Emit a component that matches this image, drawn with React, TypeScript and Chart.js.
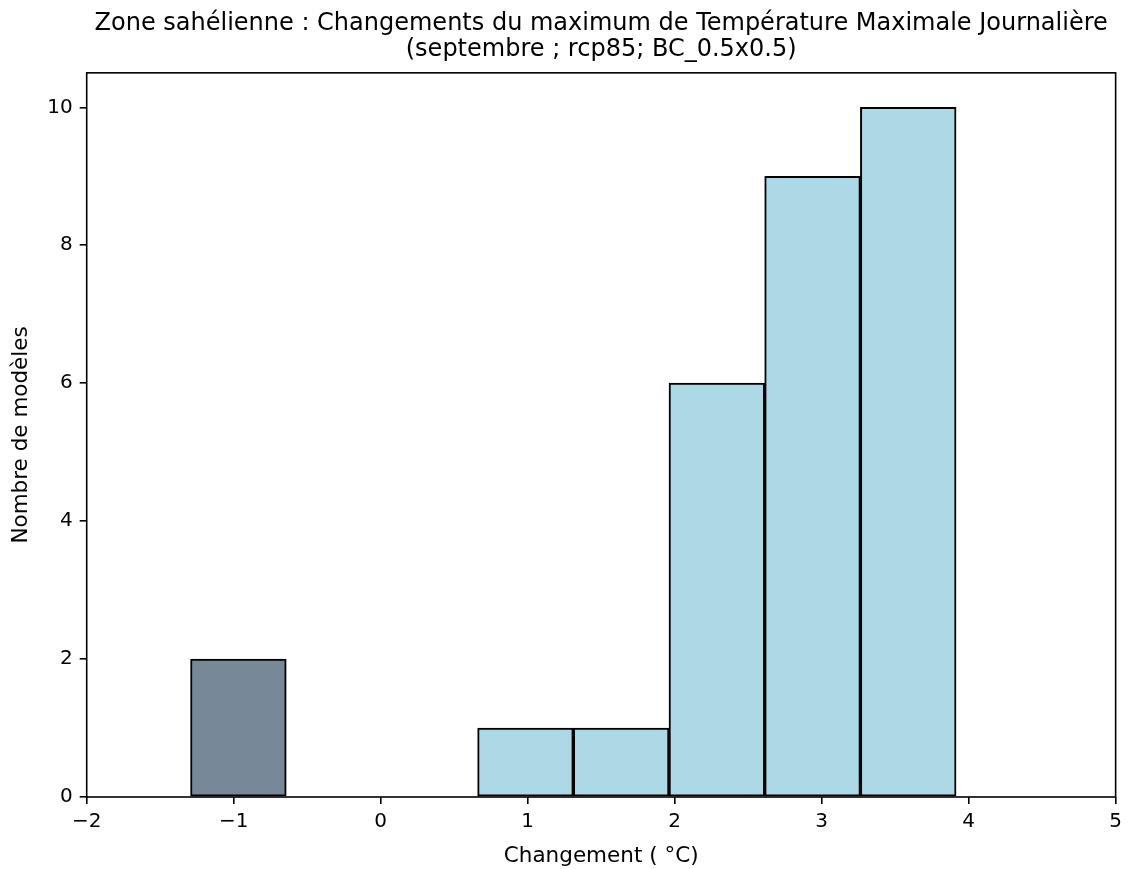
import React, { useEffect, useRef } from "react";
import { Chart, registerables } from "chart.js";

Chart.register(...registerables);

const titleLines = [
  "Zone sahélienne : Changements du maximum de Température Maximale Journalière",
  "(septembre ; rcp85; BC_0.5x0.5)",
];
const xLabel = "Changement ( °C)";
const yLabel = "Nombre de modèles";

const binCenters = [-0.968, -0.317, 0.334, 0.985, 1.636, 2.287, 2.938, 3.589];
const binCounts = [2, 0, 0, 1, 1, 6, 9, 10];
const binColors = [
  "#778899",
  "#778899",
  "#ADD8E6",
  "#ADD8E6",
  "#ADD8E6",
  "#ADD8E6",
  "#ADD8E6",
  "#ADD8E6",
];

const xMin = -2;
const xMax = 5;
const yMin = 0;
const yMax = 10.5;

const FONT = "'DejaVu Sans', sans-serif";

const framePlugin = {
  id: "frame",
  afterDatasetsDraw(chart: any) {
    const { ctx, chartArea } = chart;
    ctx.save();
    ctx.strokeStyle = "#000";
    ctx.lineWidth = 1.6;
    ctx.strokeRect(
      chartArea.left,
      chartArea.top,
      chartArea.right - chartArea.left,
      chartArea.bottom - chartArea.top
    );
    ctx.restore();
  },
};

export default function App() {
  const ref = useRef<HTMLCanvasElement | null>(null);

  useEffect(() => {
    if (!ref.current) return;
    const chart = new Chart(ref.current, {
      type: "bar",
      data: {
        datasets: [
          {
            data: binCenters.map((c, i) => ({ x: c, y: binCounts[i] })),
            backgroundColor: binColors,
            borderColor: "#000",
            borderWidth: 2,
            borderSkipped: false,
            barPercentage: 1,
            categoryPercentage: 1,
          },
        ],
      },
      options: {
        animation: false,
        responsive: false,
        maintainAspectRatio: false,
        layout: { padding: { top: 0, right: 9, bottom: 0, left: 0 } },
        plugins: {
          legend: { display: false },
          tooltip: { enabled: false },
          title: {
            display: true,
            text: titleLines,
            fullSize: false,
            color: "#000",
            font: { family: FONT, size: 24, weight: "normal", lineHeight: 1.08 },
            padding: { top: 11, bottom: 10 },
          },
        },
        scales: {
          x: {
            type: "linear",
            min: xMin,
            max: xMax,
            offset: false,
            grid: {
              display: true,
              offset: false,
              drawOnChartArea: false,
              drawTicks: true,
              tickLength: 7,
              color: "#000",
              lineWidth: 1.6,
            },
            border: { display: false },
            ticks: {
              stepSize: 1,
              includeBounds: false,
              color: "#000",
              padding: 6,
              maxRotation: 0,
              font: { family: FONT, size: 20 },
              callback: (v: any) =>
                Number(v) < 0 ? "\u2212" + Math.abs(Number(v)) : String(v),
            },
            title: {
              display: true,
              text: xLabel,
              color: "#000",
              font: { family: FONT, size: 21.5 },
              padding: { top: 0, bottom: 0 },
            },
            afterFit: (s: any) => {
              s.height = 72;
            },
          },
          y: {
            type: "linear",
            min: yMin,
            max: yMax,
            grid: {
              display: true,
              offset: false,
              drawOnChartArea: false,
              drawTicks: true,
              tickLength: 7,
              color: "#000",
              lineWidth: 1.6,
            },
            border: { display: false },
            ticks: {
              stepSize: 2,
              includeBounds: false,
              color: "#000",
              padding: 7,
              font: { family: FONT, size: 20 },
            },
            title: {
              display: true,
              text: yLabel,
              color: "#000",
              font: { family: FONT, size: 21.5 },
              padding: { top: 9, bottom: 0 },
            },
            afterFit: (s: any) => {
              s.width = 86.7;
            },
          },
        },
      },
      plugins: [framePlugin],
    });
    return () => chart.destroy();
  }, []);

  return (
    <div style={{ position: "absolute", left: 0, top: 0, width: 1128, height: 869, background: "#fff" }}>
      <canvas ref={ref} width={1128} height={869} style={{ width: 1128, height: 869 }} />
    </div>
  );
}
